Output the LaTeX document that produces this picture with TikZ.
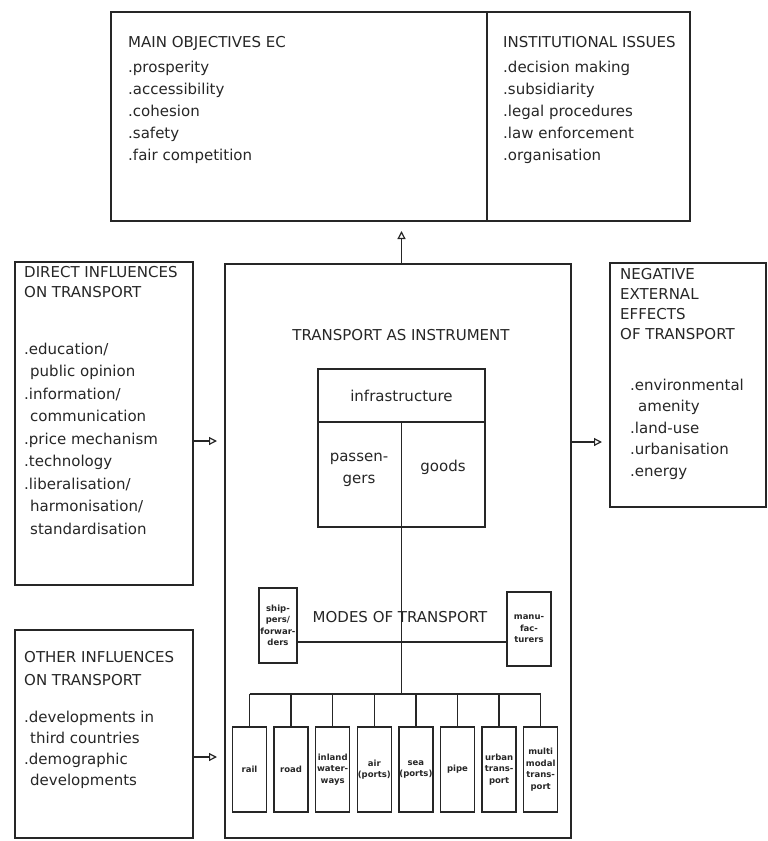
\documentclass[tikz,border=0pt]{standalone}
\usepackage{fontspec}
\setmainfont{DejaVu Sans}
\usetikzlibrary{arrows.meta,calc}
\definecolor{ink}{gray}{0.15}
\begin{document}
\begin{tikzpicture}[x=1pt,y=-1pt,
  frame/.style={draw=ink, line width=1.5pt, inner sep=0pt, outer sep=0pt, anchor=north west},
  link/.style={draw=ink, line width=1.5pt},
  arr/.style={link, -{Triangle[open, length=8pt, width=8pt, line width=1.2pt]}, shorten >=8pt},
  block/.style={inner sep=0pt, anchor=north west, align=left, text=ink},
  head/.style={inner sep=0pt, text=ink, font=\fontsize{15}{18}\selectfont},
  small/.style={align=center, text=ink, font=\fontsize{8.5}{11.5}\selectfont\bfseries}
]
\useasboundingbox (0,0) rectangle (768,841);

% ---------- frames ----------
\node[frame, minimum width=579pt, minimum height=209pt] (top) at (111,12) {};
\node[frame, minimum width=178pt, minimum height=323pt] (direct) at (15,262) {};
\node[frame, minimum width=178pt, minimum height=208pt] (other) at (15,630) {};
\node[frame, minimum width=346pt, minimum height=574pt] (cbox) at (225,264) {};
\node[frame, minimum width=156pt, minimum height=244pt] (negative) at (610,263) {};

% split of the top frame
\coordinate (split) at (487,12);
\draw[link] (split) -- (split |- top.south);

% ---------- texts of the outer frames ----------
\node[block, font=\fontsize{15}{22}\selectfont] (objectives) at (128,36)
  {MAIN OBJECTIVES EC\\[3pt].prosperity\\.accessibility\\.cohesion\\.safety\\.fair competition};
\node[block, font=\fontsize{15}{22}\selectfont] (institutional) at (503,36)
  {INSTITUTIONAL ISSUES\\[3pt].decision making\\.subsidiarity\\.legal procedures\\.law enforcement\\.organisation};

\node[block, font=\fontsize{15}{22.5}\selectfont] (directtext) at (24,266.6)
  {DIRECT INFLUENCES\\[-2.5pt]ON TRANSPORT\\[34pt].education/\\\hspace*{6pt}public opinion\\.information/\\\hspace*{6pt}communication\\.price mechanism\\.technology\\.liberalisation/\\\hspace*{6pt}harmonisation/\\\hspace*{6pt}standardisation};

\node[block, font=\fontsize{15}{21}\selectfont] (othertext) at (24,651.6)
  {OTHER INFLUENCES\\[2pt]ON TRANSPORT\\[15.5pt].developments in\\\hspace*{6pt}third countries\\.demographic\\\hspace*{6pt}developments};

\node[block, font=\fontsize{15}{21.5}\selectfont] (negativetext) at (620,268)
  {NEGATIVE\\[-1.5pt]EXTERNAL\\[-1.5pt]EFFECTS\\[-1.5pt]OF TRANSPORT\\[29.6pt]\hspace*{10pt}.environmental\\\hspace*{18pt}amenity\\\hspace*{10pt}.land-use\\\hspace*{10pt}.urbanisation\\\hspace*{10pt}.energy};

% ---------- transport as instrument ----------
\node[head] (instrument) at (401,335) {TRANSPORT AS INSTRUMENT};

\node[frame, minimum width=167pt, minimum height=158pt] (inner) at (318,369) {};
\coordinate (rowline) at (0,422);
\draw[link] (inner.west |- rowline) -- (inner.east |- rowline);
\draw[link] (inner.center |- rowline) -- (inner.south);
\node[head] (infra) at (401.5,396) {infrastructure};
\node[head, align=center, font=\fontsize{15}{22}\selectfont] (passengers) at (359,470) {passen-\\gers};
\node[head] (goods) at (443,467) {goods};

% ---------- modes of transport ----------
\node[head] (modes) at (400,617) {MODES OF TRANSPORT};
\node[frame, small, minimum width=38pt, minimum height=75pt] (shippers) at (259,588) {ship-\\pers/\\forwar-\\ders};
\node[frame, small, minimum width=44pt, minimum height=74pt] (makers) at (507,592) {manu-\\fac-\\turers};
\coordinate (chain) at (0,642);
\draw[link] (shippers.east |- chain) -- (makers.west |- chain);

\foreach \i/\t in {1/rail, 2/road, 3/{inland\\water-\\ways}, 4/{air\\(ports)},
                   5/{sea\\(ports)}, 6/pipe, 7/{urban\\trans-\\port}, 8/{multi\\modal\\trans-\\port}}{
  \pgfmathsetmacro{\cx}{249.5+41.6*(\i-1)}
  \node[frame, small, anchor=north, minimum width=34pt, minimum height=85pt] (mode\i) at (\cx,727) {\t};
}

\coordinate (bus) at (0,694);
\draw[link] (inner.south) -- (inner.south |- bus);
\draw[link] (mode1.north |- bus) -- (mode8.north |- bus);
\foreach \i in {1,...,8}{
  \draw[link] (mode\i.north |- bus) -- (mode\i.north);
}

% ---------- influence arrows ----------
\draw[arr, shorten >=10pt] (inner.north |- cbox.north) -- (inner.north |- top.south);
\coordinate (dlevel) at (0,441);
\draw[arr] (direct.east |- dlevel) -- (cbox.west |- dlevel);
\coordinate (nlevel) at (0,442);
\draw[arr] (cbox.east |- nlevel) -- (negative.west |- nlevel);
\coordinate (olevel) at (0,757);
\draw[arr] (other.east |- olevel) -- (cbox.west |- olevel);
\end{tikzpicture}
\end{document}
